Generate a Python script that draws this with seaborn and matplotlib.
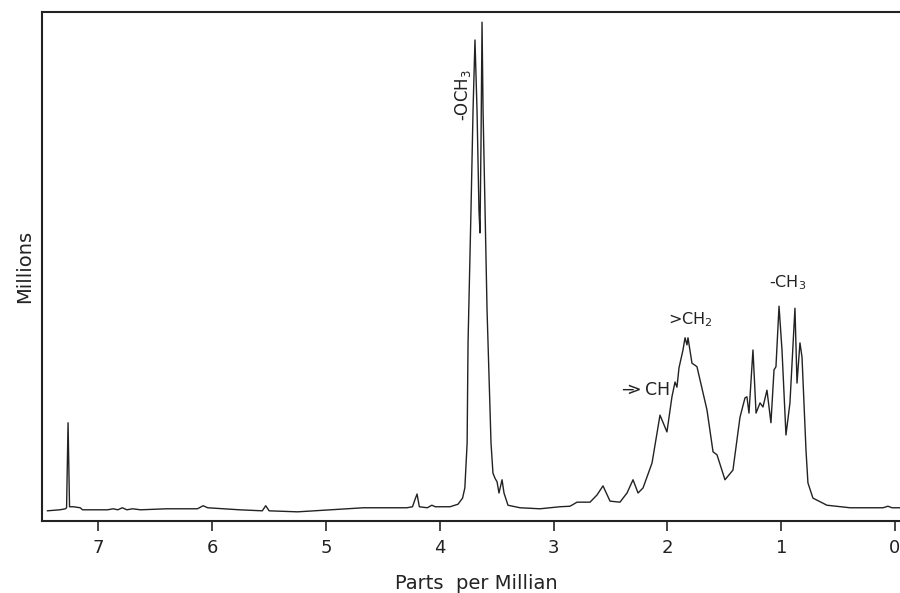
import matplotlib
matplotlib.use("Agg")
from matplotlib import pyplot as plt
import seaborn as sns
import pandas as pd

# chemical shift (ppm) and signal height
ppm = [7.45, 7.34, 7.29, 7.28, 7.267, 7.254, 7.22, 7.16, 7.14, 6.92, 6.87, 6.83,
       6.79, 6.75, 6.70, 6.63, 6.40, 6.13, 6.08, 6.04, 5.76, 5.56, 5.53, 5.50,
       5.25, 4.96, 4.67, 4.29, 4.24, 4.22, 4.20, 4.18, 4.11, 4.07, 4.04, 3.91,
       3.84, 3.80, 3.78, 3.76, 3.752, 3.726, 3.708, 3.691, 3.673, 3.656, 3.647,
       3.638, 3.629, 3.620, 3.585, 3.550, 3.533, 3.515, 3.497, 3.480, 3.453,
       3.436, 3.401, 3.295, 3.120, 2.944, 2.856, 2.794, 2.680, 2.619, 2.566,
       2.504, 2.417, 2.355, 2.302, 2.258, 2.214, 2.135, 2.065, 2.004, 1.960,
       1.933, 1.916, 1.898, 1.863, 1.845, 1.828, 1.819, 1.784, 1.757, 1.740,
       1.652, 1.599, 1.564, 1.494, 1.424, 1.362, 1.318, 1.301, 1.283, 1.248,
       1.221, 1.186, 1.160, 1.125, 1.090, 1.063, 1.046, 1.019, 0.993, 0.958,
       0.923, 0.879, 0.861, 0.835, 0.817, 0.782, 0.765, 0.721, 0.598, 0.395,
       0.105, 0.062, 0.026, -0.044]
signal = [2.0, 2.2, 2.4, 2.6, 19.3, 2.8, 2.8, 2.6, 2.2, 2.2, 2.4, 2.2,
          2.6, 2.2, 2.4, 2.2, 2.4, 2.4, 3.0, 2.6, 2.2, 2.0, 3.0, 2.0,
          1.8, 2.2, 2.6, 2.6, 2.8, 4.1, 5.3, 2.8, 2.6, 3.1, 2.8, 2.8,
          3.3, 4.5, 6.5, 15.3, 35.0, 61.1, 80.7, 94.5, 80.7, 61.1, 56.6,
          74.3, 98.0, 80.7, 41.5, 15.3, 9.4, 8.4, 7.7, 5.5, 8.1,
          5.5, 3.1, 2.6, 2.4, 2.8, 2.9, 3.7, 3.7, 5.1, 6.9,
          3.9, 3.7, 5.5, 8.1, 5.5, 6.5, 11.4, 20.8, 17.5, 24.4,
          27.3, 26.3, 30.1, 33.6, 36.0, 34.6, 36.0, 31.0, 30.6, 30.3,
          21.8, 13.6, 13.0, 8.1, 10.0, 20.4, 24.2, 24.4, 21.2, 33.6,
          21.2, 23.2, 22.4, 25.7, 19.3, 29.7, 30.3, 42.2, 33.6, 16.9,
          23.2, 41.8, 27.1, 35.0, 32.2, 13.9, 7.5, 4.5, 3.1, 2.6,
          2.6, 2.9, 2.6, 2.6]

tick_vals = [7, 6, 5, 4, 3, 2, 1, 0]
tick_labels = ["7", "6", "5", "4", "3", "2", "1", "0"]

sns.set_style("ticks")
plt.rcParams['font.family'] = ['DejaVu Sans']

df = pd.DataFrame({"ppm": ppm, "signal": signal})

fig = plt.figure(figsize=(9, 5.93), dpi=100)
ax = fig.add_axes([42 / 900, 72 / 593, 868 / 900, 509 / 593])
sns.lineplot(data=df, x="ppm", y="signal", ax=ax, color="#222222",
             linewidth=1.0, estimator=None)

ax.set_xlim(7.496, -0.132)
ax.set_ylim(0, 100)
ax.set_xticks(tick_vals)
ax.set_xticklabels(tick_labels, fontsize=13, color="#222222")
ax.set_yticks([])
ax.tick_params(axis="x", direction="out", length=7, width=1.2, pad=6)
for s in ax.spines.values():
    s.set_linewidth(1.5)
    s.set_color("#222222")

ax.set_xlabel("Parts  per Millian", fontsize=14, color="#222222", labelpad=12)
ax.set_ylabel("Millions", fontsize=14, color="#222222", labelpad=6)

# peak labels
ax.text(3.80, 83.7, "-OCH$_3$", rotation=90, ha="center", va="center",
        fontsize=12, color="#222222")
ax.text(0.94, 46.8, "-CH$_3$", ha="center", va="center", fontsize=11.5,
        color="#222222")
ax.text(1.80, 39.5, ">CH$_2$", ha="center", va="center", fontsize=11.5,
        color="#222222")
ax.text(2.20, 25.8, r"$-\!\!\!\!>$CH", ha="center", va="center",
        fontsize=12.5, color="#222222")

fig.savefig("out.png", dpi=100)
